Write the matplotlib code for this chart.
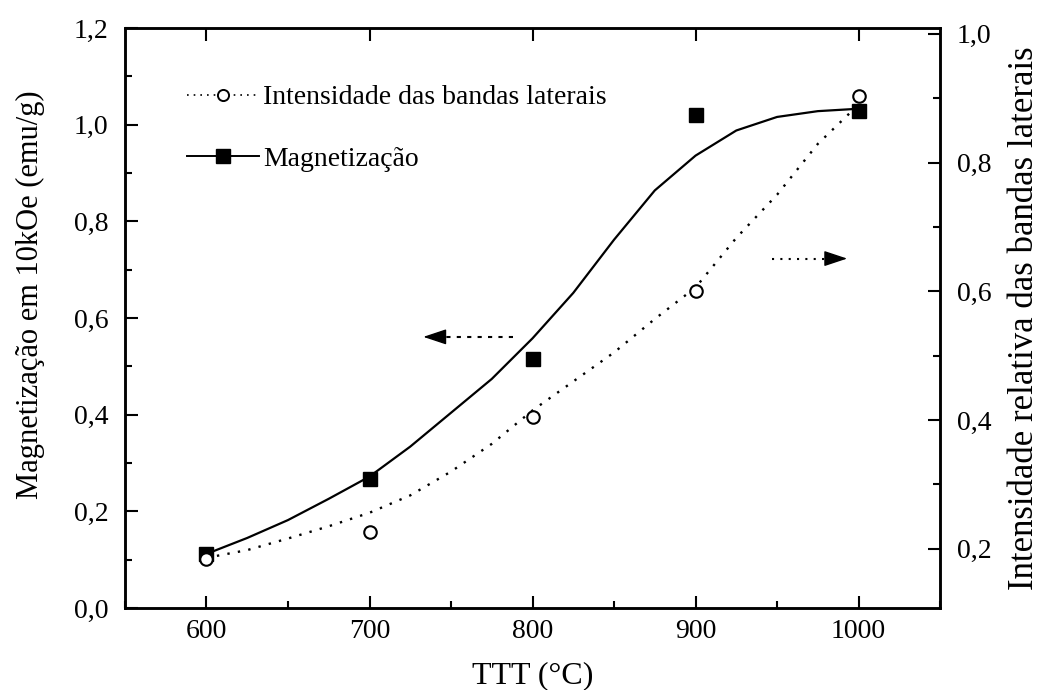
import matplotlib.pyplot as plt
from matplotlib.ticker import MultipleLocator, FuncFormatter

plt.rcParams['font.family'] = ['Liberation Serif', 'DejaVu Serif']

# pontos medidos
ttt = [600, 700, 800, 900, 1000]
magnetizacao = [0.112, 0.267, 0.516, 1.019, 1.029]
intensidade = [0.184, 0.226, 0.405, 0.600, 0.904]

# curvas de ajuste (lidas a cada 25 graus)
ttt_ajuste = [600, 625, 650, 675, 700, 725, 750, 775, 800, 825, 850, 875,
              900, 925, 950, 975, 1000]
mag_ajuste = [0.112, 0.145, 0.182, 0.226, 0.272, 0.334, 0.404, 0.474, 0.558,
              0.652, 0.762, 0.864, 0.936, 0.988, 1.016, 1.028, 1.033]
int_ajuste = [0.186, 0.198, 0.216, 0.235, 0.256, 0.283, 0.320, 0.363, 0.415,
              0.460, 0.505, 0.557, 0.606, 0.683, 0.750, 0.829, 0.890]

virgula = FuncFormatter(lambda v, pos: f'{v:.1f}'.replace('.', ','))

fig = plt.figure(figsize=(10.45, 6.9), dpi=100)
ax = fig.add_axes([0.1196, 0.1188, 0.78, 0.8406])
ax2 = ax.twinx()

# magnetizacao (eixo esquerdo)
ax.plot(ttt_ajuste, mag_ajuste, color='black', lw=1.6)
ax.plot(ttt, magnetizacao, ls='none', marker='s', ms=10, color='black')

# intensidade das bandas laterais (eixo direito)
ax2.plot(ttt_ajuste, int_ajuste, color='black', lw=1.7, ls=(0, (1, 3.5)))
ax2.plot(ttt, intensidade, ls='none', marker='o', ms=9, mfc='white',
         mec='black', mew=1.5)

ax.set_xlim(550, 1050)
ax.set_ylim(0, 1.2)
ax2.set_ylim(0.108, 1.009)

ax.xaxis.set_major_locator(MultipleLocator(100))
ax.xaxis.set_minor_locator(MultipleLocator(50))
ax.yaxis.set_major_locator(MultipleLocator(0.2))
ax.yaxis.set_minor_locator(MultipleLocator(0.1))
ax2.yaxis.set_major_locator(MultipleLocator(0.2))
ax2.yaxis.set_minor_locator(MultipleLocator(0.1))
ax.yaxis.set_major_formatter(virgula)
ax2.yaxis.set_major_formatter(virgula)

ax.tick_params(which='both', direction='in', top=True, right=False,
               labelsize=20, width=1.5)
ax.tick_params(which='major', length=9)
ax.tick_params(which='minor', length=5)
ax.tick_params(axis='y', pad=12)
ax.tick_params(axis='x', pad=8)
ax.tick_params(axis='x', which='minor', top=False)
ax2.tick_params(which='both', direction='in', labelsize=20, width=1.5)
ax2.tick_params(which='major', length=9, pad=12)
ax2.tick_params(which='minor', length=5)
for a in (ax, ax2):
    for s in a.spines.values():
        s.set_linewidth(1.8)

ax.set_xlabel('TTT (°C)', fontsize=23, labelpad=12)
ax.set_ylabel('Magnetização em 10kOe (emu/g)', fontsize=22)
ax.yaxis.set_label_coords(-0.098, 0.54)
ax2.set_ylabel('Intensidade relativa das bandas laterais', fontsize=25,
               labelpad=12)

# setas indicando o eixo de cada curva: haste tracejada + ponta cheia
ax.plot([788, 742], [0.561, 0.561], color='black', lw=1.5, ls=(0, (2, 3)))
ax.annotate('', xy=(733, 0.561), xytext=(744, 0.561),
            arrowprops=dict(arrowstyle='-|>,head_length=0.9,head_width=0.3',
                            color='black', lw=1.0, mutation_scale=16,
                            shrinkA=0, shrinkB=0))
ax.plot([947, 984], [0.723, 0.723], color='black', lw=1.5, ls=(0, (1, 3)))
ax.annotate('', xy=(993, 0.723), xytext=(982, 0.723),
            arrowprops=dict(arrowstyle='-|>,head_length=0.9,head_width=0.3',
                            color='black', lw=1.0, mutation_scale=16,
                            shrinkA=0, shrinkB=0))

# legenda
h1, = ax.plot([], [], color='black', lw=1.2, ls=(0, (1, 3)), marker='o',
              ms=8, mfc='white', mec='black', mew=1.4)
h2, = ax.plot([], [], color='black', lw=1.4, marker='s', ms=10)
ax.legend([h1, h2], ['Intensidade das bandas laterais', 'Magnetização'],
          loc='upper left', bbox_to_anchor=(0.045, 0.945), frameon=False,
          fontsize=20, numpoints=1, handlelength=2.6, handletextpad=0.15,
          labelspacing=1.3)

fig.savefig('out.png', dpi=100)
